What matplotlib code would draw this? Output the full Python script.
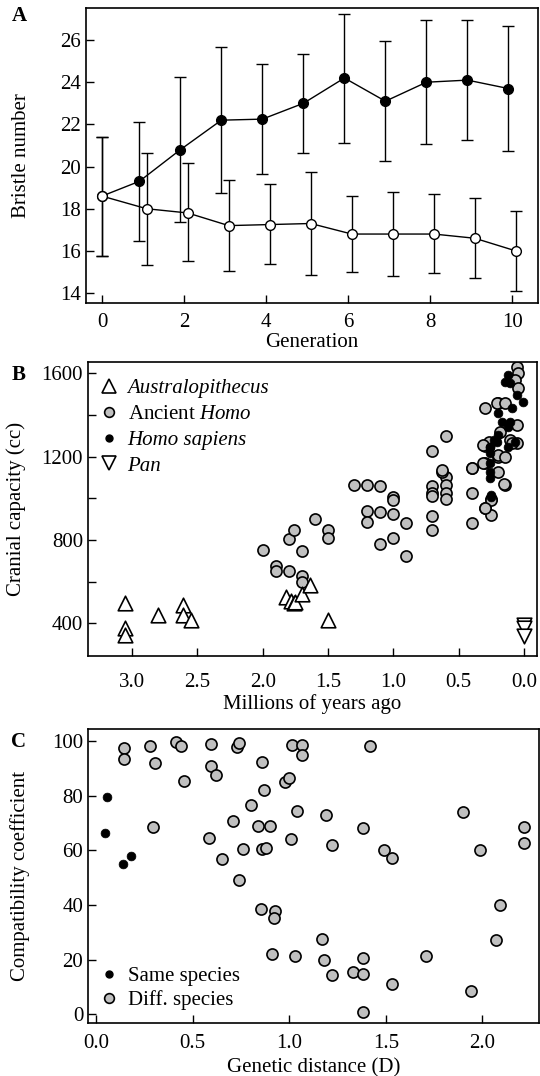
import numpy as np
import matplotlib
matplotlib.use("Agg")
import matplotlib.pyplot as plt
from matplotlib.lines import Line2D

plt.rcParams['font.family'] = ['Liberation Serif', 'DejaVu Serif']
plt.rcParams['mathtext.fontset'] = 'custom'
plt.rcParams['mathtext.rm'] = 'Liberation Serif'
plt.rcParams['mathtext.it'] = 'Liberation Serif:italic'
plt.rcParams['font.size'] = 15

# --- panel A: bristle number over generations ---
gen = np.arange(0, 11)
up_mean = [18.6, 19.3, 20.8, 22.2, 22.25, 23.0, 24.2, 23.1, 24.0, 24.1, 23.7]
up_lo = [15.75, 16.45, 17.35, 18.75, 19.65, 20.65, 21.1, 20.25, 21.05, 21.25, 20.75]
up_hi = [21.4, 22.1, 24.25, 25.65, 24.85, 25.35, 27.25, 25.95, 26.95, 26.95, 26.65]
down_mean = [18.6, 18.0, 17.8, 17.2, 17.25, 17.3, 16.8, 16.8, 16.8, 16.6, 16.0]
down_lo = [15.75, 15.35, 15.5, 15.05, 15.4, 14.85, 15.0, 14.8, 14.95, 14.7, 14.1]
down_hi = [21.4, 20.65, 20.15, 19.35, 19.15, 19.75, 18.6, 18.8, 18.7, 18.5, 17.9]

# --- panel B: cranial capacity ---
aus_x = [3.05, 3.05, 3.05, 2.80, 2.61, 2.61, 2.55, 1.82, 1.78, 1.76, 1.75, 1.70, 1.64, 1.50]
aus_y = [496, 376, 344, 440, 488, 440, 416, 525, 510, 500, 505, 540, 585, 415]
homo_x = [2.0, 1.90, 1.90, 1.80, 1.80, 1.76, 1.70, 1.70, 1.70, 1.60, 1.50, 1.50,
          1.30, 1.20, 1.10, 1.00, 1.00, 1.20, 1.10, 1.00, 1.20, 0.90, 1.00, 1.10, 0.90,
          0.70, 0.70, 0.70, 0.70, 0.70, 0.70, 0.60, 0.60, 0.60, 0.60, 0.63, 0.60, 0.63,
          0.40, 0.40, 0.40, 0.30, 0.30, 0.30, 0.30, 0.25, 0.25, 0.20, 0.20, 0.145,
          0.056, 0.044, 0.07, 0.044, 0.21, 0.145, 0.056, 0.18, 0.27, 0.107, 0.056,
          0.31, 0.094, 0.20, 0.145, 0.31, 0.40, 0.20, 0.15, 0.25, 0.30]
homo_y = [750, 677, 653, 651, 803, 848, 749, 627, 600, 899, 848, 808,
          1064, 1064, 1059, 1005, 992, 940, 936, 925, 885, 883, 811, 779, 725,
          1059, 1025, 1011, 916, 848, 1227, 1101, 1064, 1027, 995, 1128, 1299, 1136,
          1144, 1024, 880, 1432, 1251, 1168, 952, 920, 995, 1456, 1200, 1064,
          1632, 1600, 1570, 1528, 1456, 1456, 1352, 1320, 1272, 1280, 1264,
          1256, 1264, 1208, 1200, 1168, 1144, 1128, 1069, 992, 952]
sap_x = [0.145, 0.107, 0.12, 0.056, 0.005, 0.094, 0.20, 0.17, 0.11, 0.12, 0.20, 0.23,
         0.07, 0.26, 0.12, 0.26, 0.21, 0.26, 0.26, 0.26, 0.26, 0.25, 0.25]
sap_y = [1560, 1552, 1592, 1496, 1464, 1432, 1408, 1368, 1368, 1340, 1304, 1280,
         1272, 1248, 1248, 1248, 1270, 1216, 1168, 1128, 1096, 1016, 1008]
pan_x = [0.0, 0.0, 0.0]
pan_y = [395, 380, 340]

# --- panel C: compatibility vs genetic distance ---
same_x = [0.059, 0.047, 0.138, 0.18]
same_y = [79.5, 66.5, 55.0, 58.0]
diff_x = [0.147, 0.147, 0.28, 0.305, 0.297, 0.417, 0.44, 0.457, 0.595, 0.595, 0.62,
          0.586, 0.65, 0.71, 0.73, 0.74, 0.762, 0.738, 0.80, 0.857, 0.87, 0.84, 0.90,
          0.857, 0.88, 0.854, 0.926, 0.922, 0.912, 0.978, 1.0, 1.009, 1.017, 1.064,
          1.069, 1.04, 1.03, 1.42, 1.19, 1.22, 1.383, 1.49, 1.533, 1.168, 1.18, 1.22,
          1.33, 1.383, 1.383, 1.383, 1.533, 1.71, 1.90, 1.99, 2.09, 2.07, 1.94,
          2.214, 2.214]
diff_y = [97.5, 93.5, 98.2, 92.0, 68.5, 99.5, 98.2, 85.5, 98.8, 91.0, 87.5,
          64.5, 57.0, 70.8, 97.8, 99.3, 60.5, 49.2, 76.5, 92.5, 82.0, 69.0, 69.0,
          60.5, 61.0, 38.5, 37.8, 35.3, 22.2, 85.0, 86.5, 64.0, 98.5, 98.5,
          95.0, 74.5, 21.3, 98.0, 72.8, 61.8, 68.3, 60.2, 57.2, 27.7, 19.8, 14.4,
          15.3, 20.5, 14.7, 0.8, 11.0, 21.3, 74.2, 60.0, 40.0, 27.3, 8.4,
          68.5, 62.5]

fig = plt.figure(figsize=(5.4, 10.76), dpi=100)
W, H = 540, 1076

def add_ax(l, r, t, b):
    return fig.add_axes([l / W, 1 - b / H, (r - l) / W, (b - t) / H])

def style(ax, xpad):
    ax.tick_params(direction='in', length=6, width=1, top=False, right=False, labelsize=15)
    ax.tick_params(axis='x', pad=xpad)
    for s in ax.spines.values():
        s.set_linewidth(1.2)

# A
ax = add_ax(86, 538, 8, 303)
g_up = gen - 0.09
g_up[0] = 0
g_dn = gen + 0.09
g_dn[0] = 0
m = np.array(up_mean)
ax.errorbar(g_up, m, yerr=[m - np.array(up_lo), np.array(up_hi) - m], fmt='-o', color='black',
            mfc='black', mec='black', ms=7, lw=1, elinewidth=1, capsize=4, capthick=1, zorder=2)
m = np.array(down_mean)
ax.errorbar(g_dn, m, yerr=[m - np.array(down_lo), np.array(down_hi) - m], fmt='-o', color='black',
            mfc='white', mec='black', ms=7, lw=1, elinewidth=1, capsize=4, capthick=1, zorder=3)
ax.set_xlim(-0.39, 10.63)
ax.set_ylim(13.53, 27.52)
ax.set_xticks(range(0, 11, 2))
ax.set_yticks(range(14, 27, 2))
ax.set_xlabel('Generation', labelpad=1)
ax.set_ylabel('Bristle number', labelpad=21)
style(ax, 7)

# B
ax = add_ax(88, 537, 362, 656)
ax.scatter(homo_x, homo_y, s=64, c='#c0c0c0', edgecolors='black', linewidths=1.2, zorder=2)
ax.scatter(sap_x, sap_y, s=40, c='black', edgecolors='black', linewidths=0.5, zorder=3)
ax.scatter(aus_x, aus_y, s=110, marker='^', facecolors='white', edgecolors='black', linewidths=1.2, zorder=2)
ax.scatter(pan_x, pan_y, s=110, marker='v', facecolors='white', edgecolors='black', linewidths=1.2, zorder=2)
ax.set_xlim(3.337, -0.10)
ax.set_ylim(244, 1654)
ax.set_xticks([3.0, 2.5, 2.0, 1.5, 1.0, 0.5, 0.0])
ax.set_xticklabels(['3.0', '2.5', '2.0', '1.5', '1.0', '0.5', '0.0'])
ax.set_yticks([400, 600, 800, 1000, 1200, 1400, 1600])
ax.set_yticklabels(['400', '', '800', '', '1200', '', '1600'])
ax.set_xlabel('Millions of years ago', labelpad=2)
ax.set_ylabel('Cranial capacity (cc)', labelpad=11)
style(ax, 12)
handles = [
    Line2D([], [], ls='', marker='^', ms=10, mfc='white', mec='black', mew=1.2),
    Line2D([], [], ls='', marker='o', ms=7, mfc='#c0c0c0', mec='black', mew=1.2),
    Line2D([], [], ls='', marker='o', ms=5, mfc='black', mec='black'),
    Line2D([], [], ls='', marker='v', ms=10, mfc='white', mec='black', mew=1.2),
]
labels = ['Australopithecus', r'Ancient $\mathit{Homo}$', 'Homo sapiens', 'Pan']
leg = ax.legend(handles, labels, loc='upper left', frameon=False, fontsize=15,
                handlelength=0.8, handletextpad=0.5, labelspacing=0.3,
                borderaxespad=0.2, bbox_to_anchor=(0.0, 0.986))
for i in (0, 2, 3):
    leg.get_texts()[i].set_style('italic')

# C
ax = add_ax(88, 539, 729, 1023)
ax.scatter(diff_x, diff_y, s=64, c='#c0c0c0', edgecolors='black', linewidths=1.2, zorder=2)
ax.scatter(same_x, same_y, s=40, c='black', edgecolors='black', linewidths=0.5, zorder=3)
ax.set_xlim(-0.041, 2.293)
ax.set_ylim(-3.2, 104.4)
ax.set_xticks([0.0, 0.5, 1.0, 1.5, 2.0])
ax.set_xticklabels(['0.0', '0.5', '1.0', '1.5', '2.0'])
ax.set_yticks(range(0, 101, 20))
ax.set_xlabel('Genetic distance (D)', labelpad=4)
ax.set_ylabel('Compatibility coefficient', labelpad=16)
style(ax, 8)
handles = [
    Line2D([], [], ls='', marker='o', ms=5, mfc='black', mec='black'),
    Line2D([], [], ls='', marker='o', ms=7, mfc='#c0c0c0', mec='black', mew=1.2),
]
ax.legend(handles, ['Same species', 'Diff. species'], loc='lower left', frameon=False,
          fontsize=15, handlelength=0.8, handletextpad=0.5, labelspacing=0.2,
          borderaxespad=0.2)

for lab, y in (('A', 16), ('B', 375), ('C', 742)):
    fig.text(19 / W, 1 - y / H, lab, fontweight='bold', fontsize=15, ha='center', va='center')

fig.savefig('out.png', dpi=100)
